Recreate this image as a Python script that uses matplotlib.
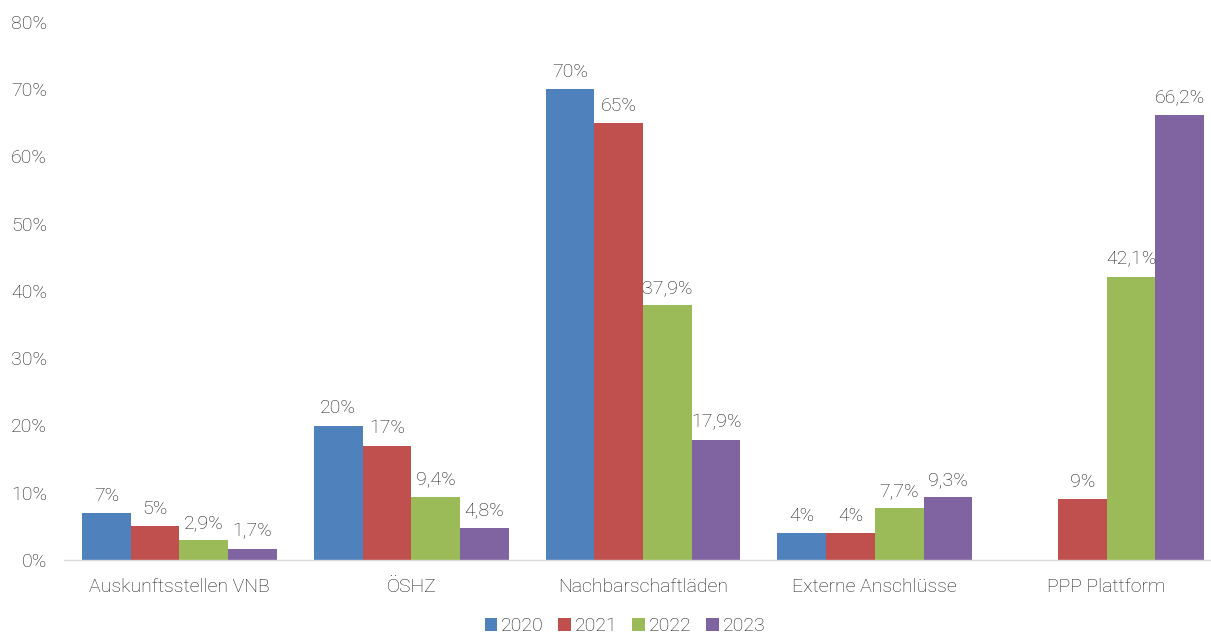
import matplotlib
matplotlib.use("Agg")
import matplotlib.pyplot as plt
import numpy as np

categories = ["Auskunftsstellen VNB", "ÖSHZ", "Nachbarschaftläden", "Externe Anschlüsse", "PPP Plattform"]
years = ["2020", "2021", "2022", "2023"]
v2020 = [7, 20, 70, 4, None]
v2021 = [5, 17, 65, 4, 9]
v2022 = [2.9, 9.4, 37.9, 7.7, 42.1]
v2023 = [1.7, 4.8, 17.9, 9.3, 66.2]
y_ticks = [0, 10, 20, 30, 40, 50, 60, 70, 80]

series = [v2020, v2021, v2022, v2023]
colors = ["#4F81BD", "#C0504D", "#9BBB59", "#8064A2"]
text_color = "#1E1E1E"
fs = 14

plt.rcParams["font.family"] = ["Roboto", "DejaVu Sans"]
plt.rcParams["font.weight"] = "light"

fig = plt.figure(figsize=(12.11, 6.35), dpi=100)
ax = fig.add_axes([63.6 / 1211, 1 - 560 / 635, (1222.5 - 63.6) / 1211, (560 - 22) / 635])

x = np.arange(len(categories))
width = 0.21

def fmt(v):
    s = f"{v:g}".replace(".", ",")
    return s + "%"

for i, (vals, col, yr) in enumerate(zip(series, colors, years)):
    offs = (i - 1.5) * width
    xs = [xi + offs for xi, v in zip(x, vals) if v is not None]
    hs = [v for v in vals if v is not None]
    bars = ax.bar(xs, hs, width=width, color=col, label=yr, clip_on=False)
    for b, v in zip(bars, hs):
        ax.annotate(fmt(v), (b.get_x() + b.get_width() / 2, v),
                    xytext=(0, 6), textcoords="offset points",
                    ha="center", va="bottom", fontsize=fs, color=text_color,
                    fontweight="light")

ax.set_xlim(-0.5, len(categories) - 0.5)
ax.set_ylim(0, 80)
ax.set_yticks(y_ticks)
ax.set_yticklabels([f"{t}%" for t in y_ticks])
ax.set_xticks(x)
ax.set_xticklabels(categories)
ax.tick_params(axis="both", length=0, labelsize=fs, colors=text_color)
ax.tick_params(axis="y", pad=12)
ax.tick_params(axis="x", pad=13)
for s in ["top", "right", "left"]:
    ax.spines[s].set_visible(False)
ax.spines["bottom"].set_color("#D9D9D9")
ax.spines["bottom"].set_linewidth(1.0)

handles, labels = ax.get_legend_handles_labels()
fig.legend(handles, labels, loc="center", bbox_to_anchor=(0.516, 0.014), ncol=4,
           frameon=False, fontsize=fs, handlelength=0.65, handleheight=0.65,
           handletextpad=0.2, columnspacing=0.75, labelcolor=text_color)

fig.savefig("out.png", dpi=100)
